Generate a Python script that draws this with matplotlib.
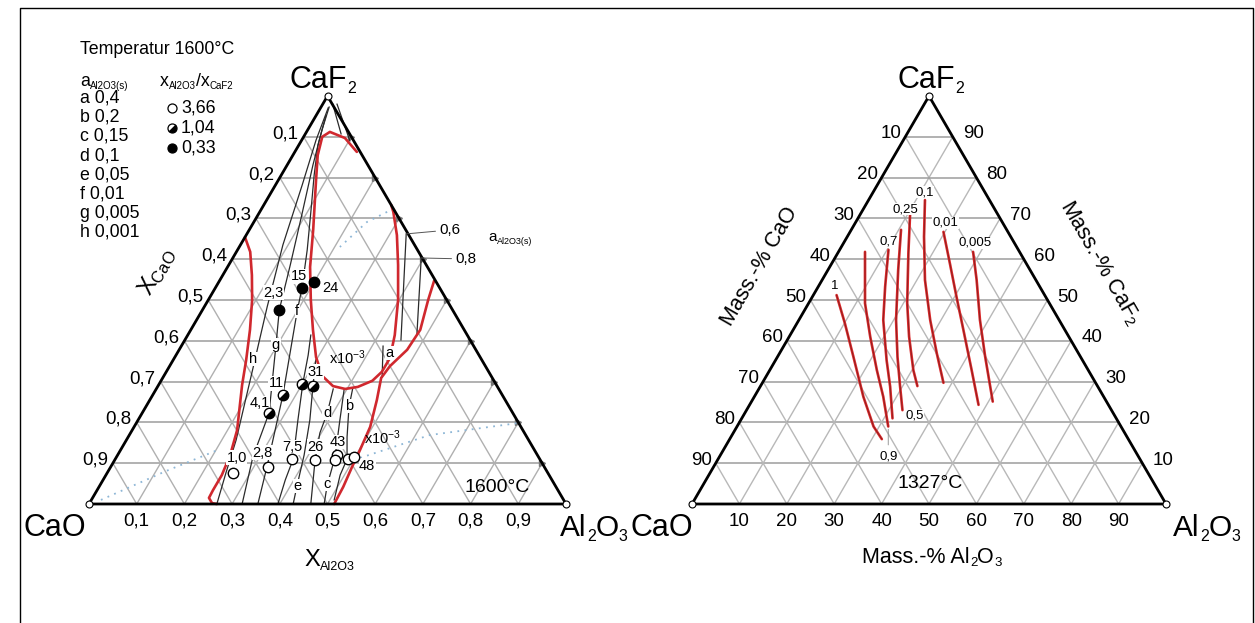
import matplotlib
matplotlib.use("Agg")
import matplotlib.pyplot as plt
from matplotlib.lines import Line2D
from matplotlib.markers import MarkerStyle
from matplotlib.transforms import Affine2D
import numpy as np

plt.rcParams["font.family"] = ["Liberation Sans", "DejaVu Sans"]
plt.rcParams["mathtext.fontset"] = "custom"
plt.rcParams["mathtext.rm"] = "Liberation Sans"
plt.rcParams["mathtext.it"] = "Liberation Sans:italic"
plt.rcParams["mathtext.bf"] = "Liberation Sans:bold"

W, H = 1255, 623
RED = "#d0282e"
INK = "#2a2a2a"

# tick labels
mole_ticks = ["0,1", "0,2", "0,3", "0,4", "0,5", "0,6", "0,7", "0,8", "0,9"]
pct_ticks = ["10", "20", "30", "40", "50", "60", "70", "80", "90"]

# ---- left diagram, mole fractions (x_Al2O3, x_CaF2), 1600 °C ----
# red phase boundaries
bA_al = [0.13, 0.088, 0.049, 0.039, 0.052, 0.079, 0.134, 0.173, 0.215, 0.256, 0.296, 0.332,
         0.367, 0.396, 0.42, 0.443, 0.452, 0.452, 0.434, 0.398, 0.355, 0.316, 0.28, 0.267]
bA_f = [0.863, 0.897, 0.912, 0.9, 0.855, 0.794, 0.672, 0.581, 0.5, 0.427, 0.36, 0.314,
        0.289, 0.282, 0.287, 0.302, 0.324, 0.358, 0.414, 0.5, 0.586, 0.659, 0.716, 0.733]
bB_al = [0.0, 0.029, 0.061, 0.092, 0.124, 0.153, 0.175, 0.22, 0.236, 0.243, 0.243, 0.244, 0.257, 0.268]
bB_f = [0.654, 0.618, 0.561, 0.5, 0.427, 0.353, 0.292, 0.181, 0.12, 0.071, 0.034, 0.015, 0.002, 0.0]
bC_al = [0.45, 0.461, 0.481, 0.478, 0.462, 0.458, 0.476, 0.495, 0.502, 0.506, 0.512, 0.514]
bC_f = [0.547, 0.5, 0.427, 0.378, 0.338, 0.309, 0.255, 0.189, 0.132, 0.091, 0.042, 0.0]

# iso-activity lines of Al2O3(s)
h_al = [0.268, 0.249, 0.23, 0.18, 0.132, 0.089, 0.056, 0.03, 0.016]
h_f = [0.0, 0.076, 0.157, 0.324, 0.483, 0.635, 0.782, 0.892, 0.971]
g_al = [0.321, 0.286, 0.266, 0.197, 0.161, 0.129, 0.092, 0.054, 0.03, 0.017]
g_f = [0.0, 0.115, 0.223, 0.39, 0.476, 0.586, 0.708, 0.831, 0.917, 0.973]
f_al = [0.354, 0.327, 0.273, 0.2, 0.182, 0.146, 0.105, 0.069, 0.04, 0.021]
f_f = [0.0, 0.093, 0.267, 0.473, 0.529, 0.623, 0.721, 0.806, 0.88, 0.951]
x_al = [0.396, 0.382, 0.373, 0.335, 0.3, 0.277, 0.258]
x_f = [0.0, 0.059, 0.11, 0.206, 0.297, 0.365, 0.414]
e_al = [0.428, 0.414, 0.391, 0.36, 0.325, 0.299]
e_f = [0.0, 0.044, 0.12, 0.206, 0.289, 0.353]
d_al = [0.465, 0.42, 0.397, 0.388, 0.371]
d_f = [0.0, 0.108, 0.174, 0.223, 0.282]
c_al = [0.493, 0.476, 0.459, 0.423, 0.394]
c_f = [0.0, 0.047, 0.113, 0.206, 0.282]
b_al = [0.509, 0.491, 0.486, 0.459, 0.426, 0.411]
b_f = [0.01, 0.071, 0.11, 0.164, 0.238, 0.284]
a_al = [0.423, 0.459]
a_f = [0.387, 0.311]
a06_al = [0.334, 0.453]
a06_f = [0.662, 0.402]
a08_al = [0.395, 0.479]
a08_f = [0.603, 0.417]
top1_al = [0.021, 0.075]
top1_f = [0.98, 0.907]
top2_al = [0.03, 0.102]
top2_f = [0.98, 0.89]

# faint dotted curves
dot1_al = [0.267, 0.237, 0.211]
dot1_f = [0.716, 0.691, 0.63]
dot2_al = [0.512, 0.63, 0.804]
dot2_f = [0.113, 0.169, 0.199]
dot3_al = [0.02, 0.12, 0.2]
dot3_f = [0.01, 0.08, 0.13]

# measured points, x_Al2O3/x_CaF2 = 3.66 (open), 1.04 (half), 0.33 (filled)
open_al = [0.263, 0.329, 0.371, 0.42, 0.459, 0.462, 0.488, 0.498]
open_f = [0.077, 0.091, 0.11, 0.108, 0.12, 0.108, 0.11, 0.116]
open_lab = ["1,0", "2,8", "7,5", "26", "43", "", "", "48"]
half_al = [0.266, 0.274, 0.299, 0.324]
half_f = [0.222, 0.267, 0.294, 0.29]
half_lab = ["4,1", "11", "", "31"]
full_al = [0.161, 0.182, 0.199]
full_f = [0.476, 0.529, 0.545]
full_lab = ["2,3", "15", "24"]

legend_act = ["a 0,4", "b 0,2", "c 0,15", "d 0,1", "e 0,05", "f 0,01", "g 0,005", "h 0,001"]
legend_ratio = ["3,66", "1,04", "0,33"]

# ---- right diagram, mass fractions (Al2O3, CaF2), 1327 °C ----
r1_al = [0.049, 0.101, 0.16, 0.23, 0.288, 0.321]
r1_f = [0.512, 0.443, 0.361, 0.263, 0.19, 0.159]
r09_al = [0.056, 0.119, 0.171, 0.226, 0.272, 0.319]
r09_f = [0.618, 0.492, 0.41, 0.328, 0.263, 0.19]
r07_al = [0.103, 0.141, 0.178, 0.234, 0.274, 0.318]
r07_f = [0.623, 0.533, 0.451, 0.353, 0.288, 0.21]
r05_al = [0.105, 0.148, 0.205, 0.253, 0.295, 0.329]
r05_f = [0.672, 0.574, 0.451, 0.361, 0.288, 0.23]
r025_al = [0.106, 0.149, 0.208, 0.253, 0.303, 0.331]
r025_f = [0.708, 0.615, 0.492, 0.41, 0.328, 0.289]
r01_al = [0.119, 0.162, 0.217, 0.277, 0.332, 0.382]
r01_f = [0.745, 0.655, 0.549, 0.451, 0.369, 0.297]
r001_al = [0.197, 0.249, 0.304, 0.359, 0.426, 0.483]
r001_f = [0.667, 0.59, 0.508, 0.427, 0.328, 0.243]
r0005_al = [0.284, 0.326, 0.382, 0.438, 0.509]
r0005_f = [0.618, 0.549, 0.451, 0.361, 0.251]


def px(x, y):
    return x / W, 1 - y / H


def tern(al, caf2):
    al = np.asarray(al, float)
    f = np.asarray(caf2, float)
    return al + f / 2, f


def triangle(ax, grid_color):
    ax.set_xlim(0, 1)
    ax.set_ylim(0, 1)
    ax.axis("off")
    for k in np.arange(1, 10) / 10:
        ax.plot(*tern([0, 1 - k], [k, k]), color="#9c9c9c", lw=1.1, zorder=1, clip_on=False)
        ax.plot(*tern([k, k], [0, 1 - k]), color=grid_color, lw=1.0, zorder=1, clip_on=False)
        ax.plot(*tern([1 - k, 0], [0, 1 - k]), color=grid_color, lw=1.0, zorder=1, clip_on=False)
    ax.plot(*tern([0, 1, 0, 0], [0, 0, 1, 0]), color="black", lw=2.0, zorder=4,
            clip_on=False, solid_joinstyle="miter")
    ax.plot(*tern([0, 1, 0], [0, 0, 1]), "o", ms=5, mfc="white", mec="black",
            mew=0.8, zorder=5, clip_on=False)


def note(ax, text, al, f, dx, dy, **kw):
    kw.setdefault("fontsize", 10)
    kw.setdefault("ha", "center")
    kw.setdefault("va", "center")
    kw.setdefault("zorder", 8)
    ax.annotate(text, xy=tern(al, f), xytext=(dx * 0.72, dy * 0.72),
                textcoords="offset points", annotation_clip=False, **kw)


def formula(x, y, parts, size, sub_size, drop, ha="center"):
    """Text with small lowered parts; x is the centre (or left edge), y the baseline, in pixels."""
    rend = fig.canvas.get_renderer()
    widths = []
    for s, sub in parts:
        t = fig.text(0, 0, s, fontsize=sub_size if sub else size)
        widths.append(t.get_window_extent(rend).width)
        t.remove()
    cur = x - sum(widths) / 2 if ha == "center" else x
    for (s, sub), w in zip(parts, widths):
        fig.text(*px(cur, y + (drop if sub else 0)), s, fontsize=sub_size if sub else size,
                 ha="left", va="baseline")
        cur += w


fig = plt.figure(figsize=(W / 100, H / 100), dpi=100)
fig.add_artist(Line2D([20 / W, 20 / W, 1253 / W, 1253 / W], [0, 1 - 8 / H, 1 - 8 / H, 0],
                      transform=fig.transFigure, color="black", lw=1.0))

# ================= left diagram =================
axL = fig.add_axes([89 / W, 119 / H, 477 / W, 408 / H])
triangle(axL, "#b0b0b0")
for k in np.arange(1, 10) / 10:
    axL.plot(*tern(1 - k, k), marker=">", ms=4, color="#777777", zorder=1.5, clip_on=False)

for al, f in ((dot1_al, dot1_f), (dot2_al, dot2_f), (dot3_al, dot3_f)):
    axL.plot(*tern(al, f), color="#8db6d6", lw=1.3, ls=(0, (1, 3)), zorder=1.5, clip_on=False)

for al, f in ((h_al, h_f), (g_al, g_f), (f_al, f_f), (x_al, x_f), (e_al, e_f), (d_al, d_f),
              (c_al, c_f), (b_al, b_f), (a_al, a_f), (a06_al, a06_f), (a08_al, a08_f),
              (top1_al, top1_f), (top2_al, top2_f)):
    axL.plot(*tern(al, f), color=INK, lw=0.9, zorder=2, clip_on=False)

for al, f in ((bA_al, bA_f), (bB_al, bB_f), (bC_al, bC_f)):
    axL.plot(*tern(al, f), color=RED, lw=1.9, zorder=3, clip_on=False, solid_capstyle="round")

half_marker = MarkerStyle("o", fillstyle="bottom", transform=Affine2D().rotate_deg(45))
axL.plot(*tern(open_al, open_f), "o", ms=7.5, mfc="white", mec="black", mew=1.0, zorder=6, clip_on=False)
axL.plot(*tern(half_al, half_f), ls="none", marker=half_marker, ms=7.5, mfc="black",
         mfcalt="white", mec="black", mew=1.0, zorder=6, clip_on=False)
axL.plot(*tern(full_al, full_f), "o", ms=7.5, mfc="black", mec="black", zorder=6, clip_on=False)

white = dict(fc="white", ec="none", pad=0.3)
open_off = [(4, 15), (-5, 14), (0, 12), (0, 13), (1, 13), None, None, (13, -9)]
half_off = [(-9, 10), (-7, 12), None, (3, 14)]
full_off = [(-6, 17), (-3, 12), (16, -6)]
for labs, als, fs, offs in ((open_lab, open_al, open_f, open_off), (half_lab, half_al, half_f, half_off),
                            (full_lab, full_al, full_f, full_off)):
    for lab, al, f, off in zip(labs, als, fs, offs):
        if lab:
            note(axL, lab, al, f, off[0], off[1], fontsize=10.5, bbox=white, zorder=5.5)

# iso-line letters
for lab, x, y in (("h", 253, 359), ("g", 276, 345), ("f", 297, 311), ("e", 297, 486), ("d", 327, 413),
                  ("c", 327, 484), ("b", 349, 406), ("a", 389, 353)):
    fig.text(*px(x, y), lab, fontsize=10.5, ha="center", va="center", bbox=white, zorder=5)
for x, y in ((347, 358), (382, 438)):
    fig.text(*px(x, y), r"x10$^{\mathregular{-3}}$", fontsize=10.5, ha="center", va="center", zorder=5)

note(axL, "0,6", a06_al[0], a06_f[0], 44, 4, fontsize=11,
     arrowprops=dict(arrowstyle="-", color="#555555", lw=0.7, shrinkA=1, shrinkB=0))
note(axL, "0,8", a08_al[0], a08_f[0], 45, -1, fontsize=11,
     arrowprops=dict(arrowstyle="-", color="#555555", lw=0.7, shrinkA=1, shrinkB=0))
formula(488, 241, [("a", False), ("Al2O3(s)", True)], 11, 6.5, 3, ha="left")
fig.text(*px(497, 488), "1600°C", fontsize=14, ha="center", va="center")

for i, lab in enumerate(mole_ticks):
    k = (i + 1) / 10
    note(axL, lab, 0, 1 - k, -5, 3, fontsize=13.5, ha="right")
    note(axL, lab, k, 0, 0, -17, fontsize=13.5)

formula(323, 88, [("CaF", False), ("2", True)], 22, 11.5, 5)
formula(55, 536, [("CaO", False)], 22, 11.5, 5)
formula(594, 536, [("Al", False), ("2", True), ("O", False), ("3", True)], 21.5, 11.5, 5)
fig.text(*px(157, 272), r"X$_{\mathregular{CaO}}$", fontsize=17, rotation=60,
         ha="center", va="center", rotation_mode="anchor")
formula(330, 566, [("X", False), ("Al2O3", True)], 17, 9, 4)

# legend block
fig.text(*px(80, 50), "Temperatur 1600°C", fontsize=12.8, ha="left", va="center")
formula(80, 86, [("a", False), ("Al2O3(s)", True)], 12.8, 7, 3, ha="left")
formula(160, 86, [("x", False), ("Al2O3", True), ("/x", False), ("CaF2", True)], 12.8, 7, 3, ha="left")
for i, lab in enumerate(legend_act):
    fig.text(*px(80, 98 + i * 19.2), lab, fontsize=12.8, ha="left", va="center")
leg_y = [108, 128, 148]
leg_style = [dict(marker="o", mfc="white"), dict(marker=half_marker, mfc="black", mfcalt="white"),
             dict(marker="o", mfc="black")]
for lab, y, st in zip(legend_ratio, leg_y, leg_style):
    axL.plot([172 / W], [1 - y / H], ls="none", ms=6.5, mec="black", mew=0.9,
             transform=fig.transFigure, clip_on=False, zorder=6, **st)
    fig.text(*px(181, y), lab, fontsize=12.8, ha="left", va="center")

# ================= right diagram =================
axR = fig.add_axes([692 / W, 119 / H, 474 / W, 408 / H])
triangle(axR, "#b8b8b8")

r_curves = [(r1_al, r1_f), (r09_al, r09_f), (r07_al, r07_f), (r05_al, r05_f),
            (r025_al, r025_f), (r01_al, r01_f), (r001_al, r001_f), (r0005_al, r0005_f)]
for al, f in r_curves:
    axR.plot(*tern(al, f), color="#d8282a", lw=1.9, zorder=3, clip_on=False, solid_capstyle="round")
    axR.plot(*tern(al, f), color="#6a1a1a", lw=0.4, zorder=3.1, clip_on=False)

small = dict(fontsize=9.5, bbox=dict(fc="white", ec="none", pad=0.2))
note(axR, "1", r1_al[0], r1_f[0], -2, 9, **small)
note(axR, "0,9", r09_al[-1], r09_f[-1], 0, -30, fontsize=9.5,
     arrowprops=dict(arrowstyle="-", color="#888888", lw=0.6, shrinkA=2, shrinkB=2))
note(axR, "0,7", r07_al[0], r07_f[0], 0, 8, **small)
note(axR, "0,5", r05_al[-1], r05_f[-1], 3, -5, ha="left", **small)
note(axR, "0,25", r025_al[0], r025_f[0], -5, 6, **small)
note(axR, "0,1", r01_al[0], r01_f[0], 0, 8, **small)
note(axR, "0,01", r001_al[0], r001_f[0], 2, 9, **small)
note(axR, "0,005", r0005_al[0], r0005_f[0], 2, 9, **small)
fig.text(*px(930, 483), "1327°C", fontsize=14, ha="center", va="center")

for i, lab in enumerate(pct_ticks):
    k = (i + 1) / 10
    note(axR, lab, 0, 1 - k, -4, 3, fontsize=13.5, ha="right")
    note(axR, lab, 1 - k, k, 10, 3, fontsize=13.5, ha="left")
    note(axR, lab, k, 0, 0, -17, fontsize=13.5)

formula(931, 88, [("CaF", False), ("2", True)], 22, 11.5, 5)
formula(662, 536, [("CaO", False)], 22, 11.5, 5)
formula(1207, 536, [("Al", False), ("2", True), ("O", False), ("3", True)], 21.5, 11.5, 5)
fig.text(*px(760, 266), "Mass.-% CaO", fontsize=15.5, rotation=60, ha="center", va="center",
         rotation_mode="anchor")
fig.text(*px(1100, 263), r"Mass.-% CaF$_\mathregular{2}$", fontsize=15.5, rotation=-60, ha="center",
         va="center", rotation_mode="anchor")
formula(932, 563, [("Mass.-% Al", False), ("2", True), ("O", False), ("3", True)], 15.5, 9.5, 3)

fig.savefig("out.png", dpi=100)
